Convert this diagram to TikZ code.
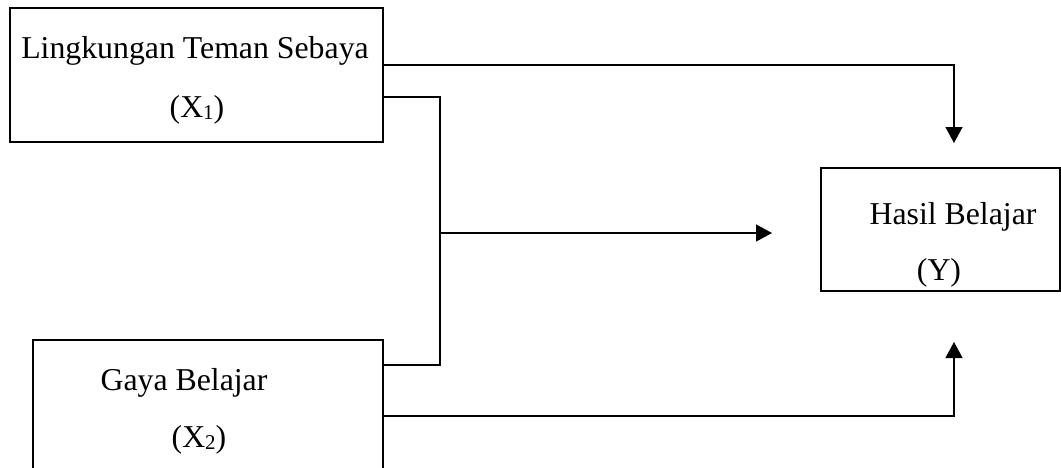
\documentclass[tikz,border=0pt]{standalone}
\usepackage{fontspec}
\setmainfont{Liberation Serif}
\usetikzlibrary{arrows.meta}
\newcommand{\sub}[1]{{\fontsize{21}{21}\selectfont\raisebox{-2.5pt}{#1}}}
\begin{document}
\begin{tikzpicture}[x=1pt,y=-1pt,
  box/.style={draw=black, line width=1.3pt, rectangle, inner sep=0pt},
  lbl/.style={anchor=base, inner sep=0pt, font=\fontsize{31.8}{38}\selectfont},
  conn/.style={draw=black, line width=1.3pt},
  arr/.style={conn, -{Triangle[length=16pt,width=17pt]}}]
\useasboundingbox (0,0) rectangle (1061,467);
\clip (0,0) rectangle (1061,467);
\fill[white] (0,0) rectangle (1061,467);
% boxes
\node[box, minimum width=373pt, minimum height=134pt] (x1) at (196.5,75) {};
\node[box, minimum width=350pt, minimum height=160pt] (x2) at (208,420) {};
\node[box, minimum width=239pt, minimum height=123pt] (y) at (940.5,229.5) {};
% texts
\node[lbl] (t1) at (195,58) {Lingkungan Teman Sebaya};
\node[lbl] (t1b) at (197,117) {(X\sub{1})};
\node[lbl] (t2) at (184,390) {Gaya Belajar};
\node[lbl] (t2b) at (199,447) {(X\sub{2})};
\node[lbl] (t3) at (953,224) {Hasil Belajar};
\node[lbl] (t3b) at (939,280) {(Y)};
% connector points
\coordinate (ytop) at (954,143);
\coordinate (ybot) at (954,342);
\coordinate (j) at (440,233);
\coordinate (mid) at (772,233);
% connectors
\draw[arr] ([yshift=10pt]x1.east) -| (ytop);
\draw[conn] ([yshift=-22pt]x1.east) -| (j) |- ([yshift=55pt]x2.east);
\draw[arr] (j) -- (mid);
\draw[arr] ([yshift=4pt]x2.east) -| (ybot);
\end{tikzpicture}
\end{document}
